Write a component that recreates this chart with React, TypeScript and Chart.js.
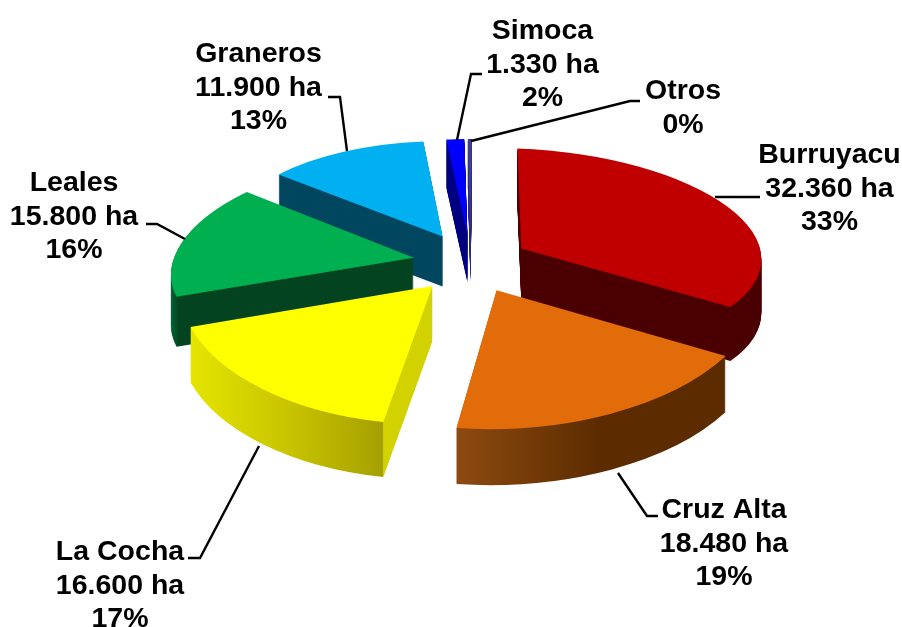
import React, { useEffect, useRef } from "react";
import { Chart, registerables } from "chart.js";

Chart.register(...registerables);

const categories = ["Burruyacu", "Cruz Alta", "La Cocha", "Leales", "Graneros", "Simoca", "Otros"];
const hectares = [32360, 18480, 16600, 15800, 11900, 1330, 300];
const percentLabels = ["33%", "19%", "17%", "16%", "13%", "2%", "0%"];
const showHectares = [true, true, true, true, true, true, false];

const topColors = ["#c00000", "#e26b0a", "#ffff00", "#00b050", "#00b0f0", "#0000ff", "#403a98"];

// Side shading: [horizontal offset from the slice's apex, colour]
const sideStops: [number, string][][] = [
  [[-20, "#4a0000"], [250, "#4a0000"]],
  [[-40, "#8c4a10"], [100, "#5c2c00"], [240, "#5c2c00"]],
  [[-242, "#e6e600"], [-130, "#c6c200"], [-41, "#a6a000"], [-40, "#d2d200"], [10, "#d2d200"]],
  [[-240, "#006b3c"], [-225, "#03431f"], [10, "#03431f"]],
  [[-170, "#00465f"], [10, "#00465f"]],
  [[-30, "#000080"], [10, "#000080"]],
  [[-10, "#2a2a70"], [10, "#2a2a70"]],
];

// View of the tilted pie
const viewCenter = { x: 471, y: 263, squash: 0.5 };
const explode = [58, 60, 60, 58, 60, 58, 58];
const depth = [54, 56, 55, 50, 50, 48, 48];
const paintOrder = [4, 5, 6, 0, 3, 2, 1];
// Per-slice perspective matrix [a, b, c, d], in pixels per unit radius
const lens: number[][] = [
  [240, 9, 4, 100],
  [264.4, -5, 1.85, 138.9],
  [253, 4.56, -9.1, 138.5],
  [241.2, -3.9, -29, 108],
  [216.2, 1.4, -3.6, 95.4],
  [209, 0, -1, 95],
  [209, 0, -1.5, 95],
];

// Label layout: centre x and first baseline, with line step
const labelAnchors = [
  { x: 829.5, y: 163 },
  { x: 724, y: 518 },
  { x: 120, y: 560 },
  { x: 74, y: 191 },
  { x: 258.5, y: 62 },
  { x: 542.5, y: 39 },
  { x: 683, y: 99 },
];
const lineStep = 33.6;
const leaders: number[][][] = [
  [[760, 197], [715, 197]],
  [[658, 516], [647, 516], [618, 473]],
  [[188, 558], [200, 558], [259, 446]],
  [[146, 224], [157, 224], [185, 239]],
  [[328, 97], [340, 97], [347, 151]],
  [[482, 74], [471, 74], [457, 140]],
  [[640, 101], [630, 101], [471, 141]],
];

const formatHa = (v: number) => String(v).replace(/\B(?=(\d{3})+$)/g, ".") + " ha";

const pie3d = {
  id: "pie3d",
  beforeDatasetDraw(chart: any) {
    const ctx: CanvasRenderingContext2D = chart.ctx;
    const arcs = chart.getDatasetMeta(0).data;
    for (const i of paintOrder) {
      const el = arcs[i];
      const R = el.outerRadius;
      const mid = (el.startAngle + el.endAngle) / 2;
      const ax = viewCenter.x + Math.cos(mid) * explode[i];
      const ay = viewCenter.y + Math.sin(mid) * explode[i] * viewCenter.squash;
      const [a, b, c, d] = lens[i];
      const place = (dy: number) => {
        ctx.translate(ax, ay + dy);
        ctx.transform(a / R, b / R, c / R, d / R, 0, 0);
        ctx.translate(-el.x, -el.y);
      };
      const stops = sideStops[i];
      const x0 = stops[0][0];
      const x1 = stops[stops.length - 1][0];
      const grad = ctx.createLinearGradient(el.x + (x0 * R) / a, 0, el.x + (x1 * R) / a, 0);
      stops.forEach(([x, col]) => grad.addColorStop((x - x0) / (x1 - x0), col));
      const side = Object.create(el);
      side.options = { ...el.options, backgroundColor: grad, borderWidth: 0 };
      for (let k = depth[i]; k >= 1; k--) {
        ctx.save();
        place(k);
        side.draw(ctx);
        ctx.restore();
      }
      ctx.save();
      place(0);
      el.draw(ctx);
      ctx.restore();
    }
    return false;
  },
  afterDatasetsDraw(chart: any) {
    const ctx: CanvasRenderingContext2D = chart.ctx;
    ctx.save();
    ctx.strokeStyle = "#000000";
    ctx.lineWidth = 2.4;
    ctx.lineJoin = "miter";
    leaders.forEach((pts) => {
      ctx.beginPath();
      pts.forEach(([x, y], j) => (j ? ctx.lineTo(x, y) : ctx.moveTo(x, y)));
      ctx.stroke();
    });
    ctx.fillStyle = "#000000";
    ctx.font = 'bold 28.5px "Liberation Sans", Arial, sans-serif';
    ctx.textAlign = "center";
    ctx.textBaseline = "alphabetic";
    categories.forEach((name, i) => {
      const lines = showHectares[i]
        ? [name, formatHa(hectares[i]), percentLabels[i]]
        : [name, percentLabels[i]];
      lines.forEach((t, j) => ctx.fillText(t, labelAnchors[i].x, labelAnchors[i].y + j * lineStep));
    });
    ctx.restore();
  },
};

export default function App() {
  const ref = useRef<HTMLCanvasElement>(null);
  useEffect(() => {
    document.body.style.margin = "0";
    const chart = new Chart(ref.current as HTMLCanvasElement, {
      type: "pie",
      data: {
        labels: categories,
        datasets: [{ data: hectares, backgroundColor: topColors, borderWidth: 0 }],
      },
      options: {
        responsive: false,
        animation: false,
        rotation: 0,
        plugins: { legend: { display: false }, tooltip: { enabled: false } },
      },
      plugins: [pie3d],
    } as any);
    return () => chart.destroy();
  }, []);
  return <canvas ref={ref} width={902} height={627} style={{ display: "block" }} />;
}
